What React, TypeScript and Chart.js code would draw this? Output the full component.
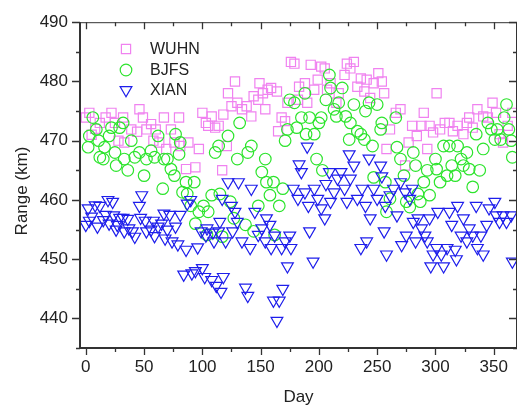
import React, { useEffect, useRef } from "react";
import { Chart, registerables } from "chart.js";

Chart.register(...registerables);

const FONT = 'Arial, "Liberation Sans", sans-serif';

const xTicks = [0, 50, 100, 150, 200, 250, 300, 350];
const yTicks = [440, 450, 460, 470, 480, 490];
const seriesNames = ["WUHN", "BJFS", "XIAN"];
const xTitle = "Day";
const yTitle = "Range (km)";

const wuhnDays = [0, 3, 5, 8, 12, 17, 22, 25, 28, 32, 33, 39, 44, 46, 49, 52, 56, 58, 60, 63, 67, 69, 73, 76, 80, 81, 86, 88, 94, 97, 100, 103, 105, 108, 111, 114, 117, 118, 121, 122, 125, 128, 130, 134, 138, 142, 144, 148, 149, 152, 154, 156, 159, 164, 165, 168, 171, 173, 176, 179, 182, 183, 188, 190, 193, 196, 199, 202, 205, 207, 210, 215, 217, 222, 224, 227, 230, 233, 236, 239, 241, 244, 247, 251, 254, 256, 258, 261, 266, 270, 274, 277, 280, 284, 288, 290, 293, 295, 298, 301, 304, 308, 312, 315, 319, 324, 327, 329, 332, 336, 341, 345, 349, 352, 355, 358, 362, 366];
const wuhnRange = [473.9, 474.7, 471, 472, 473, 473.9, 474.7, 473, 470, 473.9, 469.7, 471.9, 471.5, 475.3, 473.9, 471.9, 472.8, 470, 471.9, 469.7, 473.9, 468.6, 471.9, 469.7, 473.9, 469.1, 465.2, 469.7, 465.5, 468.6, 474.7, 473, 472.5, 474.1, 472.2, 472.5, 465, 474.4, 469.1, 478, 475.8, 480, 476.4, 475.3, 475.8, 474.1, 477.5, 476.9, 479.7, 478, 475.3, 478.6, 478.9, 478.3, 471.6, 473.9, 473.3, 476.4, 483.3, 483, 476.9, 479.1, 479.7, 476.4, 482.8, 478.6, 480.3, 482.5, 482.2, 478.6, 479.7, 476.4, 478, 481.1, 483, 482.2, 483.3, 479.1, 480.5, 478.3, 480.3, 477.2, 479.7, 481.4, 480, 478, 468.6, 471.9, 474.7, 475.3, 465.8, 469.7, 472.5, 470.8, 472.5, 474.7, 468.6, 472.5, 471.4, 478, 471.9, 473, 473, 471.6, 472.5, 471.1, 473, 473.9, 472.2, 475.3, 474.1, 473.9, 476.4, 474.7, 471.1, 469.7, 472.5, 474.7];

const bjfsDays = [2, 3, 6, 9, 11, 12, 15, 16, 20, 22, 25, 26, 29, 32, 33, 36, 39, 42, 46, 50, 52, 56, 59, 62, 66, 67, 70, 73, 76, 77, 80, 81, 83, 86, 87, 90, 93, 94, 97, 101, 104, 105, 108, 111, 114, 115, 117, 122, 124, 127, 130, 132, 137, 139, 142, 144, 148, 151, 154, 155, 158, 161, 162, 166, 169, 171, 173, 175, 179, 181, 185, 188, 189, 192, 196, 198, 200, 202, 203, 206, 209, 210, 213, 215, 217, 220, 223, 226, 227, 230, 233, 236, 239, 240, 243, 246, 247, 250, 253, 254, 257, 258, 261, 266, 267, 270, 273, 275, 278, 281, 283, 285, 287, 290, 293, 295, 300, 301, 304, 307, 310, 312, 314, 317, 319, 322, 324, 327, 329, 332, 335, 338, 341, 345, 348, 351, 353, 356, 359, 361, 363, 365, 366];
const bjfsRange = [468.9, 470.8, 473.9, 471.9, 470, 467.2, 466.9, 468.9, 470.8, 472.2, 468, 465.8, 472.2, 473, 466.9, 465, 470, 467.2, 468, 464.1, 466.9, 468.3, 467.2, 470.8, 461.9, 466.9, 466.9, 465.2, 464.1, 471.1, 467.7, 469.7, 461.3, 463, 461, 459, 463, 456, 458, 459, 454.1, 458, 460.8, 468, 469.1, 461, 453.8, 470.8, 459.7, 456.9, 466.9, 473, 455.8, 468, 469.1, 454.7, 459, 464.7, 466.9, 463, 460.8, 463, 454.1, 459, 461.9, 470, 471.9, 476.9, 476.4, 472.2, 473.9, 478, 471.1, 473.9, 471.1, 466.9, 473, 473.9, 465, 476.9, 481.1, 478.9, 475.3, 474.1, 476.4, 478.9, 474.1, 470.2, 473, 476.1, 471.6, 471.1, 470.2, 475, 476.4, 469.1, 463.8, 476.1, 471.9, 473, 463, 458, 460.2, 473.9, 468.9, 466.9, 464.1, 459.7, 458.8, 468, 465.8, 461, 459.7, 463, 465, 460.8, 466.9, 465.2, 463, 469.1, 464.1, 469.1, 465.8, 464.1, 469.1, 466.9, 465.8, 468, 465.2, 462.2, 471.1, 465, 468.6, 473, 471.9, 470.2, 471.9, 470.2, 473.9, 476.1, 471.9, 470, 467.2];

const xianDays = [0, 2, 3, 5, 8, 10, 12, 15, 17, 19, 20, 23, 24, 26, 27, 29, 32, 33, 36, 37, 40, 42, 46, 47, 48, 51, 52, 56, 58, 59, 62, 65, 67, 68, 70, 72, 74, 77, 79, 81, 84, 86, 87, 90, 91, 94, 96, 99, 100, 102, 103, 104, 108, 109, 110, 112, 114, 115, 116, 117, 118, 120, 122, 125, 126, 128, 130, 131, 134, 137, 139, 141, 142, 145, 148, 151, 154, 155, 158, 159, 161, 162, 164, 166, 168, 169, 171, 173, 175, 176, 178, 182, 183, 185, 188, 190, 191, 192, 195, 196, 199, 202, 205, 206, 209, 210, 213, 216, 219, 222, 224, 226, 227, 230, 233, 236, 237, 240, 241, 243, 244, 247, 250, 253, 254, 256, 257, 258, 261, 264, 267, 270, 271, 274, 275, 278, 280, 281, 283, 285, 288, 291, 293, 295, 296, 298, 301, 302, 305, 307, 310, 312, 314, 317, 318, 319, 322, 324, 327, 329, 332, 335, 336, 339, 341, 344, 346, 351, 352, 355, 358, 361, 365, 366];
const xianRange = [455.8, 458.6, 456.5, 457.2, 459.1, 455.5, 459, 456.6, 457.5, 460, 456, 459.7, 457.4, 455, 455.8, 457, 457, 454.7, 456.8, 455.2, 454.7, 453.8, 459, 457, 460.8, 456.5, 454.7, 455, 456.5, 453.9, 455.5, 456, 457.7, 453.5, 455, 457.5, 453, 455.5, 452.5, 457.5, 447.4, 451.6, 459.4, 460, 447.6, 448, 452, 454.7, 448.5, 447, 454, 455.2, 446.5, 454.5, 453, 445.5, 454.7, 456.3, 444.5, 460.2, 447, 453, 463, 459, 454.7, 458, 456.3, 463, 453, 445.2, 443.8, 451.9, 461.9, 458, 454.1, 455.2, 453, 456.9, 455.8, 451.9, 443, 454, 439.6, 443, 451.9, 445, 453, 448.8, 454, 451.9, 461.9, 460.2, 466, 464.7, 461.3, 469, 459, 454.7, 449.6, 461.9, 460.2, 458.6, 456.9, 462.7, 464.7, 459.7, 461.3, 463.6, 464.7, 461.9, 459.7, 467.7, 463.6, 465.8, 460.2, 451.9, 461.9, 459, 453, 467, 456.9, 461.9, 460.2, 465.8, 464, 454.7, 459, 450.8, 460.8, 461.9, 457.4, 463, 452.4, 461.3, 454, 460.2, 461.9, 456.3, 453, 456.9, 455.2, 454, 453, 456.9, 448.8, 450.8, 451.9, 458, 450.8, 448.8, 451.9, 458, 455.8, 451.6, 450, 459, 454, 456.9, 453, 455.2, 454, 459, 451.9, 454, 450.8, 455.8, 458.6, 459.7, 457.4, 456.3, 457.4, 456.3, 457.4, 449.6];

const COLORS = ["rgb(240,130,240)", "rgb(45,228,45)", "rgb(30,30,235)"];

const toPts = (xs: number[], ys: number[]) => xs.map((x, i) => ({ x, y: ys[i] }));

function drawMarker(ctx: CanvasRenderingContext2D, kind: number, x: number, y: number) {
  ctx.beginPath();
  if (kind === 0) {
    const s = 4.6;
    ctx.rect(x - s, y - s, 2 * s, 2 * s);
  } else if (kind === 1) {
    ctx.arc(x, y, 5.8, 0, Math.PI * 2);
  } else {
    const r = 6.8;
    ctx.moveTo(x, y + r);
    ctx.lineTo(x - r * 0.866, y - r * 0.5);
    ctx.lineTo(x + r * 0.866, y - r * 0.5);
    ctx.closePath();
  }
  ctx.stroke();
}

const framePlugin = {
  id: "frame",
  afterDatasetsDraw(chart: any) {
    const { ctx, chartArea: a, scales } = chart;
    const xs = scales.x;
    const ys = scales.y;
    ctx.save();
    ctx.strokeStyle = "#333";
    ctx.lineWidth = 1;
    ctx.beginPath();
    ctx.moveTo(a.left, a.top + 0.5);
    ctx.lineTo(a.right, a.top + 0.5);
    ctx.moveTo(a.right - 0.5, a.top);
    ctx.lineTo(a.right - 0.5, a.bottom);
    ctx.stroke();
    ctx.lineWidth = 2;
    ctx.beginPath();
    ctx.moveTo(a.left, a.top);
    ctx.lineTo(a.left, a.bottom + 1);
    ctx.moveTo(a.left - 1, a.bottom);
    ctx.lineTo(a.right, a.bottom);
    ctx.stroke();
    ctx.lineWidth = 1.3;
    ctx.beginPath();
    for (let v = 0; v <= xs.max; v += 25) {
      const px = Math.round(xs.getPixelForValue(v)) + 0.5;
      const len = v % 50 === 0 ? 7 : 4;
      ctx.moveTo(px, a.bottom);
      ctx.lineTo(px, a.bottom + len);
      ctx.moveTo(px, a.top);
      ctx.lineTo(px, a.top + len);
    }
    for (let v = 435; v <= ys.max; v += 5) {
      const py = Math.round(ys.getPixelForValue(v)) + 0.5;
      const len = v % 10 === 0 ? 8 : 4;
      ctx.moveTo(a.left - len, py);
      ctx.lineTo(a.left, py);
      ctx.moveTo(a.right - len, py);
      ctx.lineTo(a.right, py);
    }
    ctx.stroke();

    // axis titles
    ctx.fillStyle = "#222";
    ctx.font = `17px ${FONT}`;
    ctx.textAlign = "center";
    ctx.textBaseline = "middle";
    ctx.fillText(xTitle, (a.left + a.right) / 2, 397);
    ctx.save();
    ctx.translate(22, 191);
    ctx.rotate(-Math.PI / 2);
    ctx.fillText(yTitle, 0, 0);
    ctx.restore();

    // legend
    const rows = [49, 70, 90];
    ctx.font = `16px ${FONT}`;
    ctx.textAlign = "left";
    ctx.lineWidth = 1.2;
    seriesNames.forEach((name, i) => {
      ctx.strokeStyle = COLORS[i];
      drawMarker(ctx, i, 126, rows[i]);
      ctx.fillStyle = "#222";
      ctx.fillText(name, 150, rows[i] + 1);
    });
    ctx.restore();
  },
};

export default function App() {
  const ref = useRef<HTMLCanvasElement | null>(null);
  useEffect(() => {
    document.body.style.margin = "0";
    const canvas = ref.current!;
    const chart = new Chart(canvas, {
      type: "scatter",
      data: {
        datasets: [
          {
            label: seriesNames[0],
            data: toPts(wuhnDays, wuhnRange),
            pointStyle: "rect",
            pointRadius: 6.5,
            borderColor: COLORS[0],
            backgroundColor: "rgba(0,0,0,0)",
            borderWidth: 1.2,
            order: 2,
          },
          {
            label: seriesNames[1],
            data: toPts(bjfsDays, bjfsRange),
            pointStyle: "circle",
            pointRadius: 5.8,
            borderColor: COLORS[1],
            backgroundColor: "rgba(0,0,0,0)",
            borderWidth: 1.2,
            order: 1,
          },
          {
            label: seriesNames[2],
            data: toPts(xianDays, xianRange),
            pointStyle: "triangle",
            pointRotation: 180,
            pointRadius: 6.8,
            borderColor: COLORS[2],
            backgroundColor: "rgba(0,0,0,0)",
            borderWidth: 1.2,
            order: 0,
          },
        ],
      },
      options: {
        animation: false,
        responsive: false,
        maintainAspectRatio: false,
        events: [],
        layout: { padding: { left: 0, right: 3, top: 18, bottom: 0 } },
        plugins: { legend: { display: false }, tooltip: { enabled: false } },
        scales: {
          x: {
            type: "linear",
            min: -5,
            max: 370,
            grid: { display: false, drawTicks: false },
            border: { display: false },
            afterBuildTicks: (s: any) => {
              s.ticks = xTicks.map((v) => ({ value: v }));
            },
            afterFit: (s: any) => {
              s.height = 62;
            },
            ticks: {
              padding: 9,
              maxRotation: 0,
              autoSkip: false,
              color: "#222",
              font: { family: FONT, size: 17 },
            },
          },
          y: {
            type: "linear",
            min: 435,
            max: 490,
            grid: { display: false, drawTicks: false },
            border: { display: false },
            afterBuildTicks: (s: any) => {
              s.ticks = yTicks.map((v) => ({ value: v }));
            },
            afterFit: (s: any) => {
              s.width = 80;
            },
            ticks: {
              padding: 12,
              autoSkip: false,
              color: "#222",
              font: { family: FONT, size: 17 },
            },
          },
        },
      },
      plugins: [framePlugin],
    });
    return () => chart.destroy();
  }, []);
  return (
    <div style={{ position: "fixed", left: 0, top: 0, width: 525, height: 410, background: "#fff" }}>
      <canvas ref={ref} width={525} height={410} style={{ width: 525, height: 410 }} />
    </div>
  );
}
